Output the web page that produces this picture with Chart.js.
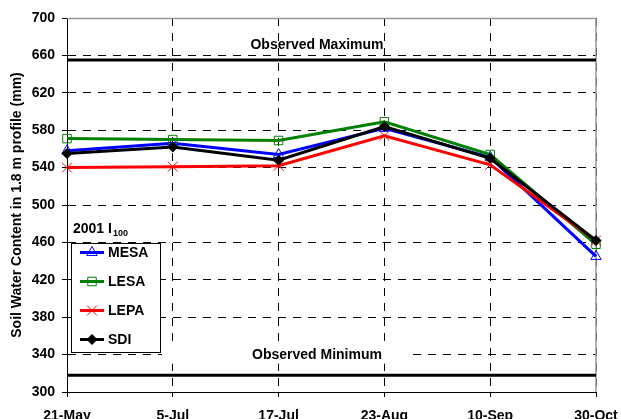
<!DOCTYPE html>
<html lang="en">
<head>
<meta charset="UTF-8">
<title>Soil Water Content 2001 I100</title>
<script src="https://cdn.jsdelivr.net/npm/chart.js"></script>
<style>
  body { margin: 0; background: #fff; overflow: hidden; }
  .wrap { width: 621px; height: 419px; position: relative; }
</style>
</head>
<body>
<div class="wrap"><canvas id="swc"></canvas></div>
<script>
// sampling dates (evenly spaced categories)
const dates = ['21-May', '5-Jul', '17-Jul', '23-Aug', '10-Sep', '30-Oct'];

// soil water content in 1.8 m profile (mm)
const mesa = [558, 566, 554, 582, 551, 445];
const lesa = [571, 570, 569, 589, 554, 458];
const lepa = [540, 541, 542, 574, 543, 462];
const sdi  = [555, 562, 548, 584, 550, 462];

const observedMax = 655;
const observedMin = 318;

const yMin = 300, yMax = 700, yStep = 40;

const FONT = "'Liberation Sans', Arial, sans-serif";
Chart.defaults.font.family = FONT;
Chart.defaults.font.size = 14;
Chart.defaults.font.weight = 'bold';
Chart.defaults.color = '#000';

// horizontal reference lines + plot frame
const refLines = {
    id: 'refLines',
    beforeDatasetsDraw(chart) {
        const { ctx, chartArea: a, scales: { y } } = chart;
        ctx.save();
        // grey frame on top and right (Excel plot area)
        ctx.strokeStyle = '#999';
        ctx.lineWidth = 1.5;
        ctx.beginPath();
        ctx.moveTo(a.left, a.top + 0.5);
        ctx.lineTo(a.right, a.top + 0.5);
        ctx.lineTo(a.right, a.bottom);
        ctx.stroke();

        const cx = 317;
        // minimum label has a white box behind it
        const yLabMin = y.getPixelForValue(340) + 1;
        ctx.fillStyle = '#fff';
        ctx.fillRect(162, yLabMin - 8, 248, 16);

        ctx.strokeStyle = '#000';
        ctx.lineWidth = 3;
        [observedMax, observedMin].forEach(v => {
            const py = y.getPixelForValue(v);
            ctx.beginPath();
            ctx.moveTo(a.left, py);
            ctx.lineTo(a.right, py);
            ctx.stroke();
        });

        ctx.fillStyle = '#000';
        ctx.font = 'bold 14px ' + FONT;
        ctx.textAlign = 'center';
        ctx.textBaseline = 'middle';
        ctx.fillText('Observed Maximum', cx, y.getPixelForValue(observedMax) - 14.5);
        ctx.fillText('Observed Minimum', cx, yLabMin);
        ctx.restore();
    }
};

// boxed legend inside the plot
const boxLegend = {
    id: 'boxLegend',
    afterDatasetsDraw(chart) {
        const { ctx } = chart;
        const bx = 71, by = 243, bw = 89, bh = 109;
        ctx.save();
        ctx.fillStyle = '#fff';
        ctx.fillRect(bx, by, bw, bh);
        ctx.strokeStyle = '#000';
        ctx.lineWidth = 1;
        ctx.strokeRect(bx + 0.5, by + 0.5, bw, bh);

        // title: 2001 I with subscript 100
        ctx.fillStyle = '#000';
        ctx.textAlign = 'left';
        ctx.textBaseline = 'alphabetic';
        ctx.font = 'bold 14px ' + FONT;
        const t = '2001 I';
        ctx.fillText(t, 73, 233);
        const tw = ctx.measureText(t).width;
        ctx.font = 'bold 9px ' + FONT;
        ctx.fillText('100', 73 + tw + 1, 236);

        const rows = [252.5, 281.5, 310.5, 339.5];
        chart.data.datasets.forEach((ds, i) => {
            const ry = rows[i];
            ctx.strokeStyle = ds.borderColor;
            ctx.lineWidth = 3;
            ctx.beginPath();
            ctx.moveTo(80, ry);
            ctx.lineTo(104, ry);
            ctx.stroke();
            ctx.strokeStyle = ds.pointBorderColor;
            ctx.fillStyle = ds.pointBackgroundColor;
            ctx.lineWidth = ds.pointBorderWidth;
            Chart.helpers.drawPoint(ctx, {
                pointStyle: ds.pointStyle, radius: ds.pointRadius,
                rotation: 0, borderWidth: ds.pointBorderWidth
            }, 92, ry);
            ctx.fillStyle = '#000';
            ctx.font = 'bold 14px ' + FONT;
            ctx.textBaseline = 'middle';
            ctx.fillText(ds.label, 108, ry + 1);
        });
        ctx.restore();
    }
};

const ctx = document.getElementById('swc').getContext('2d');
new Chart(ctx, {
    type: 'line',
    data: {
        labels: dates,
        datasets: [
            {
                label: 'MESA', data: mesa, order: 4,
                borderColor: '#0000ff', borderWidth: 3,
                pointStyle: 'triangle', pointRadius: 6, pointBorderWidth: 1,
                pointBorderColor: '#0000ff', pointBackgroundColor: 'rgba(0,0,0,0)'
            },
            {
                label: 'LESA', data: lesa, order: 3,
                borderColor: '#008000', borderWidth: 3,
                pointStyle: 'rect', pointRadius: 6, pointBorderWidth: 1,
                pointBorderColor: '#008000', pointBackgroundColor: 'rgba(0,0,0,0)'
            },
            {
                label: 'LEPA', data: lepa, order: 2,
                borderColor: '#ff0000', borderWidth: 3,
                pointStyle: 'crossRot', pointRadius: 7, pointBorderWidth: 1,
                pointBorderColor: '#ff0000', pointBackgroundColor: '#ff0000'
            },
            {
                label: 'SDI', data: sdi, order: 1,
                borderColor: '#000000', borderWidth: 3,
                pointStyle: 'rectRot', pointRadius: 5, pointBorderWidth: 1,
                pointBorderColor: '#000000', pointBackgroundColor: '#000000'
            }
        ]
    },
    options: {
        responsive: true,
        maintainAspectRatio: false,
        animation: false,
        layout: { padding: { top: 18, right: 25, left: 0, bottom: 0 } },
        plugins: {
            legend: { display: false },
            tooltip: { enabled: false }
        },
        elements: { line: { tension: 0 } },
        scales: {
            x: {
                offset: false,
                grid: {
                    color: '#000', lineWidth: 1, tickLength: 5,
                    tickColor: '#000', tickBorderDash: []
                },
                border: { display: true, color: '#000', width: 1, dash: [8, 7] },
                ticks: { padding: 11, maxRotation: 0, autoSkip: false, font: { size: 14, weight: 'bold' } },
                afterFit(scale) {
                    scale.height = 27;
                    scale.paddingLeft = 0;
                    scale.paddingRight = 25;
                }
            },
            y: {
                min: yMin, max: yMax,
                grid: {
                    color: '#000', lineWidth: 1, tickLength: 5,
                    tickColor: '#000', tickBorderDash: []
                },
                border: { display: true, color: '#000', width: 1, dash: [8, 7] },
                ticks: { stepSize: yStep, padding: 7, font: { size: 14, weight: 'bold' } },
                title: {
                    display: true,
                    text: 'Soil Water Content in 1.8 m profile (mm)',
                    font: { size: 14, weight: 'bold' },
                    padding: { top: 9, bottom: 0 }
                },
                afterFit(scale) {
                    scale.width = 67;
                    scale.paddingTop = 0;
                    scale.paddingBottom = 0;
                }
            }
        }
    },
    plugins: [refLines, boxLegend]
});
</script>
</body>
</html>
